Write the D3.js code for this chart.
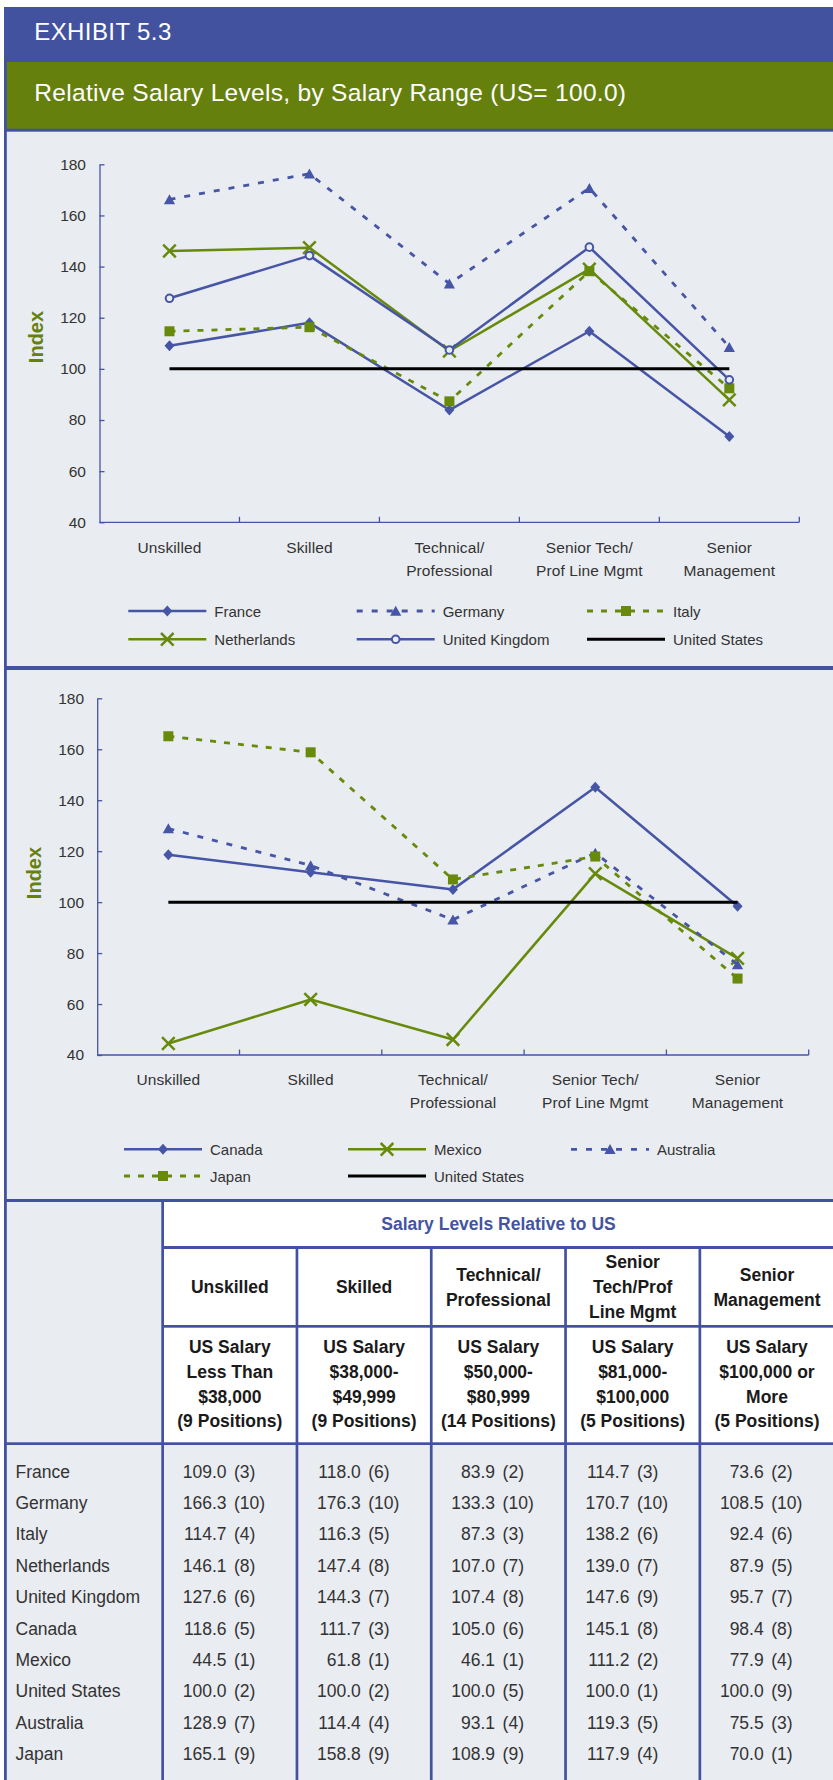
<!DOCTYPE html>
<html><head><meta charset="utf-8">
<script src="https://cdn.jsdelivr.net/npm/d3@7"></script>
<style>
body{margin:0;background:#fff}
svg{display:block}
text{font-family:"Liberation Sans",Arial,Helvetica,sans-serif}
</style>
</head><body>
<svg id="c" width="833" height="1780"></svg>
<script>
// ---------- DATA ----------
const categories = ["Unskilled","Skilled","Technical/Professional","Senior Tech/Prof Line Mgmt","Senior Management"];
const axisLabels = [["Unskilled"],["Skilled"],["Technical/","Professional"],["Senior Tech/","Prof Line Mgmt"],["Senior","Management"]];
const yTicks = [40,60,80,100,120,140,160,180];

const france      = [109.0,118.0,83.9,114.7,73.6];
const germany     = [166.3,176.3,133.3,170.7,108.5];
const italy       = [114.7,116.3,87.3,138.2,92.4];
const netherlands = [146.1,147.4,107.0,139.0,87.9];
const unitedKingdom = [127.6,144.3,107.4,147.6,95.7];
const canada      = [118.6,111.7,105.0,145.1,98.4];
const mexico      = [44.5,61.8,46.1,111.2,77.9];
const unitedStates= [100.0,100.0,100.0,100.0,100.0];
const australia   = [128.9,114.4,93.1,119.3,75.5];
const japan       = [165.1,158.8,108.9,117.9,70.0];

const rankFrance = [3,6,2,3,2];
const rankGermany = [10,10,10,10,10];
const rankItaly = [4,5,3,6,6];
const rankNetherlands = [8,8,7,7,5];
const rankUK = [6,7,8,9,7];
const rankCanada = [5,3,6,8,8];
const rankMexico = [1,1,1,2,4];
const rankUS = [2,2,5,1,9];
const rankAustralia = [7,4,4,5,3];
const rankJapan = [9,9,9,4,1];

const tableCountries = ["France","Germany","Italy","Netherlands","United Kingdom","Canada","Mexico","United States","Australia","Japan"];
const tableValues = [france,germany,italy,netherlands,unitedKingdom,canada,mexico,unitedStates,australia,japan];
const tableRanks = [rankFrance,rankGermany,rankItaly,rankNetherlands,rankUK,rankCanada,rankMexico,rankUS,rankAustralia,rankJapan];

const headCats = [["Unskilled"],["Skilled"],["Technical/","Professional"],["Senior","Tech/Prof","Line Mgmt"],["Senior","Management"]];
const headRanges = [
  ["US Salary","Less Than","$38,000","(9 Positions)"],
  ["US Salary","$38,000-","$49,999","(9 Positions)"],
  ["US Salary","$50,000-","$80,999","(14 Positions)"],
  ["US Salary","$81,000-","$100,000","(5 Positions)"],
  ["US Salary","$100,000 or","More","(5 Positions)"]
];

const chart1Series = ["France","Germany","Italy","Netherlands","United Kingdom","United States"];
const chart1Values = [france,germany,italy,netherlands,unitedKingdom,unitedStates];
const chart2Series = ["Canada","Mexico","Australia","Japan","United States"];
const chart2Values = [canada,mexico,australia,japan,unitedStates];

// ---------- STYLES ----------
const BLUE = "#43529e", GREEN = "#66800e", PANEL = "#e9ecf1";
const LBLUE = "#4655a5", LGREEN = "#678a0b";
const style = {
  "France":        {color:LBLUE, dash:null, marker:"diamond", w:2.5},
  "Germany":       {color:LBLUE, dash:"6,9", marker:"triangle", w:2.8},
  "Italy":         {color:LGREEN, dash:"6,8", marker:"square", w:2.8},
  "Netherlands":   {color:LGREEN, dash:null, marker:"x", w:2.5},
  "United Kingdom":{color:LBLUE, dash:null, marker:"circle", w:2.5},
  "United States": {color:"#000", dash:null, marker:null, w:3},
  "Canada":        {color:LBLUE, dash:null, marker:"diamond", w:2.5},
  "Mexico":        {color:LGREEN, dash:null, marker:"x", w:2.5},
  "Australia":     {color:LBLUE, dash:"6,9", marker:"triangle", w:2.8},
  "Japan":         {color:LGREEN, dash:"6,8", marker:"square", w:2.8}
};

const svg = d3.select("#c");

// ---------- FRAME ----------
svg.append("rect").attr("x",4).attr("y",7).attr("width",829).attr("height",1773).attr("fill",BLUE);
svg.append("rect").attr("x",6.8).attr("y",62).attr("width",827).attr("height",66.7).attr("fill",GREEN);
svg.append("rect").attr("x",6.8).attr("y",131.7).attr("width",827).attr("height",666-131.7).attr("fill",PANEL);
svg.append("rect").attr("x",6.8).attr("y",670).attr("width",827).attr("height",529).attr("fill",PANEL);

svg.append("text").attr("x",34.3).attr("y",40).attr("fill","#fff").attr("font-size",24).attr("letter-spacing",0.4).text("EXHIBIT 5.3");
svg.append("text").attr("x",34.3).attr("y",101).attr("fill","#fff").attr("font-size",24.5).attr("letter-spacing",0.3).text("Relative Salary Levels, by Salary Range (US= 100.0)");

// ---------- MARKERS ----------
function drawMarker(g, type, cx, cy, color){
  if(!type) return;
  if(type==="diamond"){
    g.append("path").attr("d",`M${cx},${cy-5.5}L${cx+5},${cy}L${cx},${cy+5.5}L${cx-5},${cy}Z`).attr("fill",color);
  } else if(type==="triangle"){
    g.append("path").attr("d",`M${cx},${cy-5.2}L${cx+5.6},${cy+4.8}L${cx-5.6},${cy+4.8}Z`).attr("fill",color);
  } else if(type==="square"){
    g.append("rect").attr("x",cx-5).attr("y",cy-5).attr("width",10).attr("height",10).attr("fill",color);
  } else if(type==="x"){
    g.append("path").attr("d",`M${cx-6.3},${cy-6.3}L${cx+6.3},${cy+6.3}M${cx+6.3},${cy-6.3}L${cx-6.3},${cy+6.3}`).attr("stroke",color).attr("stroke-width",2.5).attr("fill","none");
  } else if(type==="circle"){
    g.append("circle").attr("cx",cx).attr("cy",cy).attr("r",3.8).attr("fill",PANEL).attr("stroke",color).attr("stroke-width",2);
  }
}

// ---------- CHART ----------
function drawChart(cfg){
  const g = svg.append("g");
  const x = d3.scaleBand().domain(categories).range([cfg.x0,cfg.x1]).paddingInner(0).paddingOuter(0);
  const y = d3.scaleLinear().domain([40,180]).range([cfg.yB,cfg.yT]);
  const cx = c => x(c)+x.bandwidth()/2;

  // y axis
  const ya = g.append("g").attr("transform",`translate(${cfg.x0},0)`)
    .call(d3.axisLeft(y).tickValues(yTicks).tickSizeInner(-5).tickSizeOuter(0).tickPadding(cfg.pad));
  ya.select(".domain").attr("stroke",LBLUE).attr("stroke-width",1.3);
  ya.selectAll(".tick line").attr("stroke",LBLUE).attr("stroke-width",1.3);
  ya.selectAll(".tick text").attr("fill","#333").attr("font-size",15.5).attr("font-family","Liberation Sans, Arial, sans-serif");

  // x axis
  g.append("line").attr("x1",cfg.x0).attr("x2",cfg.x1).attr("y1",cfg.yB).attr("y2",cfg.yB).attr("stroke",LBLUE).attr("stroke-width",1.3);
  g.selectAll(".xt").data(categories).enter().append("line")
    .attr("x1",c=>x(c)+x.bandwidth()).attr("x2",c=>x(c)+x.bandwidth())
    .attr("y1",cfg.yB).attr("y2",cfg.yB-5.5).attr("stroke",LBLUE).attr("stroke-width",1.3);
  const xl = g.selectAll(".xl").data(categories).enter().append("text")
    .attr("text-anchor","middle").attr("fill","#333").attr("font-size",15.5).attr("letter-spacing",0.1);
  xl.each(function(c,i){
    const t = d3.select(this);
    axisLabels[i].forEach((s,k)=>{
      t.append("tspan").attr("x",cx(c)).attr("y",cfg.labY + k*cfg.labDy).text(s);
    });
  });

  // Index label
  g.append("text").attr("transform",`translate(${cfg.idxX},${cfg.idxY}) rotate(-90)`)
    .attr("text-anchor","middle").attr("font-weight","bold").attr("font-size",20).attr("fill",GREEN).text("Index");

  // series
  const line = d3.line().x((v,i)=>cx(categories[i])).y(v=>y(v));
  cfg.names.forEach((n,si)=>{
    const st = style[n];
    const vals = cfg.values[si];
    g.append("path").attr("d",line(vals)).attr("fill","none").attr("stroke",st.color)
      .attr("stroke-width",st.w).attr("stroke-dasharray",st.dash).attr("stroke-linejoin","round");
    vals.forEach((v,i)=>drawMarker(g, st.marker, cx(categories[i]), y(v), st.color));
  });

  // legend
  cfg.names.forEach((n,k)=>{
    const st = style[n];
    const lx = cfg.legCols[k%3], ly = cfg.legRows[Math.floor(k/3)];
    g.append("line").attr("x1",lx).attr("x2",lx+78).attr("y1",ly).attr("y2",ly)
      .attr("stroke",st.color).attr("stroke-width",st.w).attr("stroke-dasharray",st.dash);
    drawMarker(g, st.marker, lx+39, ly, st.color);
    g.append("text").attr("x",lx+86).attr("y",ly+5.5).attr("font-size",15).attr("fill","#333").text(n);
  });
}

drawChart({x0:99.5,x1:799.3,yT:164.3,yB:522.3,pad:13.5,labY:553.3,labDy:22.4,idxX:43.3,idxY:337,
  names:chart1Series,values:chart1Values,legCols:[128.3,356.7,587],legRows:[611,639.3]});
drawChart({x0:97.2,x1:808.7,yT:698.3,yB:1055,pad:13.2,labY:1085,labDy:23.3,idxX:40.5,idxY:873,
  names:chart2Series,values:chart2Values,legCols:[124,348,571],legRows:[1149.3,1176]});

// ---------- TABLE ----------
const tb = svg.append("g");
const tx = d3.scaleBand().domain(categories).range([161.3,832.8]);
const LW = 2.7;
const rowY = d3.scaleLinear().domain([0,tableCountries.length-1]).range([1477.7,1760]);

tb.append("rect").attr("x",6.8).attr("y",1202).attr("width",161.3-6.8).attr("height",1442.3-1202).attr("fill",PANEL);
tb.append("rect").attr("x",161.3+LW).attr("y",1202).attr("width",833-161.3-LW).attr("height",1246-1202).attr("fill","#fff");
categories.forEach(c=>{
  const x0 = tx(c)+LW, w = tx.bandwidth()-LW + (c===categories[4]?1:0);
  tb.append("rect").attr("x",x0).attr("y",1249).attr("width",w).attr("height",1325-1249).attr("fill","#fff");
  tb.append("rect").attr("x",x0).attr("y",1327.7).attr("width",w).attr("height",1442.3-1327.7).attr("fill","#fff");
  tb.append("rect").attr("x",x0).attr("y",1445).attr("width",w).attr("height",1780-1445).attr("fill",PANEL);
});
tb.append("rect").attr("x",6.8).attr("y",1445).attr("width",161.3-6.8).attr("height",1780-1445).attr("fill",PANEL);

tb.append("text").attr("x",(161.3+LW+833)/2).attr("y",1230).attr("text-anchor","middle")
  .attr("font-weight","bold").attr("font-size",17.5).attr("fill","#4454a2").text("Salary Levels Relative to US");

categories.forEach((c,i)=>{
  const cxm = tx(c)+LW + (tx.bandwidth()-LW)/2;
  const n = headCats[i].length;
  headCats[i].forEach((s,k)=>{
    tb.append("text").attr("x",cxm).attr("y",1293.3 + (k-(n-1)/2)*25).attr("text-anchor","middle")
      .attr("font-weight","bold").attr("font-size",17.5).attr("fill","#1a1a1a").text(s);
  });
  headRanges[i].forEach((s,k)=>{
    tb.append("text").attr("x",cxm).attr("y",1353.3 + k*24.7).attr("text-anchor","middle")
      .attr("font-weight","bold").attr("font-size",17.5).attr("fill","#1a1a1a").text(s);
  });
});

tableCountries.forEach((name,r)=>{
  tb.append("text").attr("x",15.5).attr("y",rowY(r)).attr("font-size",17.5).attr("fill","#333").text(name);
  categories.forEach((c,i)=>{
    const x0 = tx(c)+LW;
    tb.append("text").attr("x",x0+62.5).attr("y",rowY(r)).attr("text-anchor","end").attr("font-size",17.5).attr("fill","#333")
      .text(tableValues[r][i].toFixed(1));
    tb.append("text").attr("x",x0+70).attr("y",rowY(r)).attr("font-size",17.5).attr("fill","#333")
      .text("(" + tableRanks[r][i] + ")");
  });
});
</script>
</body></html>
